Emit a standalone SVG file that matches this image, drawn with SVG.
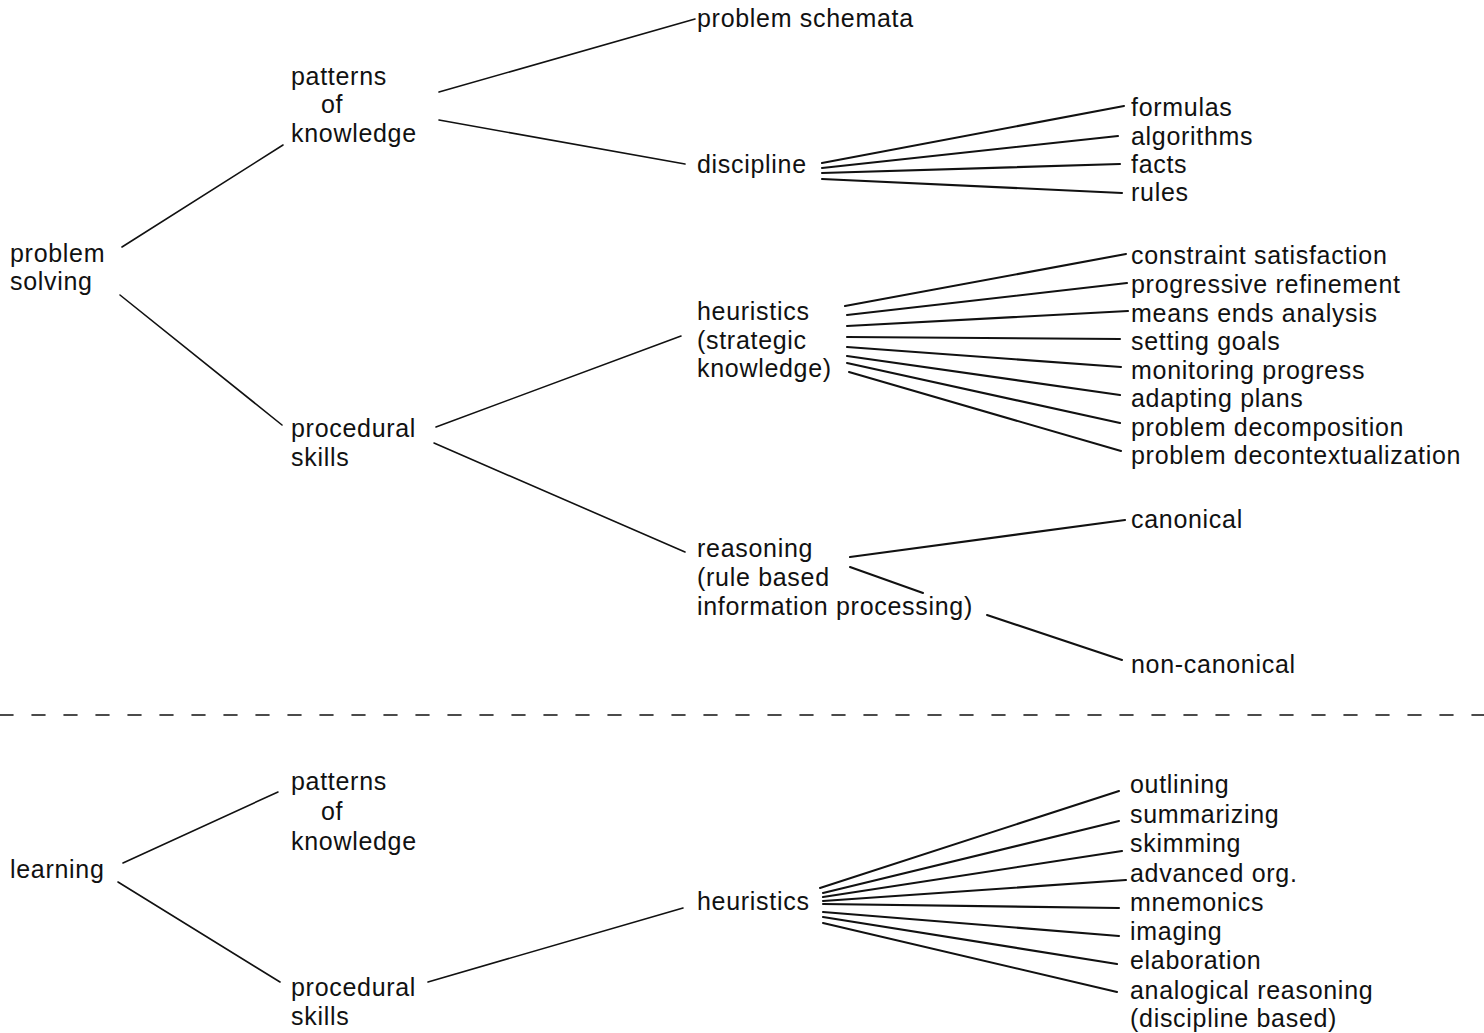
<svg xmlns="http://www.w3.org/2000/svg" width="1484" height="1033" viewBox="0 0 1484 1033">
<style>
text{font-family:"Liberation Sans",Arial,sans-serif;font-size:25px;letter-spacing:0.7px;fill:#111}
.c line{stroke:#111;stroke-width:1.6;stroke-linecap:round}
.c .f{stroke-width:2.1}
.dash{stroke:#111;stroke-width:2.2;stroke-dasharray:13 19}
</style>
<rect width="1484" height="1033" fill="#fff"/>
<g id="connectors" class="c">
<line x1="122" y1="247" x2="283" y2="145"/>
<line x1="439" y1="92" x2="695" y2="19"/>
<line x1="439" y1="120" x2="685" y2="164"/>
<line class="f" x1="822" y1="163" x2="1124" y2="106"/>
<line class="f" x1="822" y1="168" x2="1118" y2="136"/>
<line class="f" x1="822" y1="173" x2="1120" y2="164"/>
<line class="f" x1="822" y1="179" x2="1122" y2="193"/>
<line x1="120" y1="295" x2="282" y2="425"/>
<line x1="436" y1="427" x2="681" y2="336"/>
<line x1="434" y1="443" x2="685" y2="552"/>
<line class="f" x1="845" y1="306" x2="1126" y2="254"/>
<line class="f" x1="847" y1="315" x2="1127" y2="283"/>
<line class="f" x1="847" y1="326" x2="1128" y2="311"/>
<line class="f" x1="847" y1="337" x2="1120" y2="339"/>
<line class="f" x1="847" y1="347" x2="1121" y2="367"/>
<line class="f" x1="847" y1="356" x2="1120" y2="395"/>
<line class="f" x1="847" y1="363" x2="1120" y2="423"/>
<line class="f" x1="849" y1="372" x2="1121" y2="451"/>
<line class="f" x1="850" y1="557" x2="1125" y2="520"/>
<line class="f" x1="850" y1="567" x2="923" y2="593"/>
<line class="f" x1="987" y1="615" x2="1122" y2="660"/>
<line class="dash" x1="0" y1="715" x2="1484" y2="715"/>
<line x1="123" y1="863" x2="278" y2="792"/>
<line x1="118" y1="882" x2="280" y2="982"/>
<line x1="428" y1="982" x2="683" y2="908"/>
<line class="f" x1="820" y1="888" x2="1119" y2="791"/>
<line class="f" x1="823" y1="893" x2="1119" y2="821"/>
<line class="f" x1="823" y1="897" x2="1122" y2="851"/>
<line class="f" x1="823" y1="901" x2="1126" y2="880"/>
<line class="f" x1="823" y1="904" x2="1119" y2="908"/>
<line class="f" x1="823" y1="912" x2="1119" y2="936"/>
<line class="f" x1="823" y1="917" x2="1117" y2="964"/>
<line class="f" x1="823" y1="923" x2="1117" y2="992"/>
</g>
<g id="problem-solving"><text x="10" y="262">problem</text><text x="10" y="290">solving</text></g>
<g id="ps-patterns"><text x="291" y="85">patterns</text><text x="321" y="113">of</text><text x="291" y="142">knowledge</text></g>
<g id="problem-schemata"><text x="697" y="27">problem schemata</text></g>
<g id="discipline"><text x="697" y="173">discipline</text></g>
<g id="formulas"><text x="1131" y="116">formulas</text></g>
<g id="algorithms"><text x="1131" y="145">algorithms</text></g>
<g id="facts"><text x="1131" y="173">facts</text></g>
<g id="rules"><text x="1131" y="201">rules</text></g>
<g id="ps-procedural"><text x="291" y="437">procedural</text><text x="291" y="466">skills</text></g>
<g id="ps-heuristics"><text x="697" y="320">heuristics</text><text x="697" y="349">(strategic</text><text x="697" y="377">knowledge)</text></g>
<g id="constraint"><text x="1131" y="264">constraint satisfaction</text></g>
<g id="progressive"><text x="1131" y="293">progressive refinement</text></g>
<g id="means-ends"><text x="1131" y="322">means ends analysis</text></g>
<g id="setting-goals"><text x="1131" y="350">setting goals</text></g>
<g id="monitoring"><text x="1131" y="379">monitoring progress</text></g>
<g id="adapting"><text x="1131" y="407">adapting plans</text></g>
<g id="decomposition"><text x="1131" y="436">problem decomposition</text></g>
<g id="decontextualization"><text x="1131" y="464">problem decontextualization</text></g>
<g id="reasoning"><text x="697" y="557">reasoning</text><text x="697" y="586">(rule based</text><text x="697" y="615">information processing)</text></g>
<g id="canonical"><text x="1131" y="528">canonical</text></g>
<g id="non-canonical"><text x="1131" y="673">non-canonical</text></g>
<g id="learning"><text x="10" y="878">learning</text></g>
<g id="l-patterns"><text x="291" y="790">patterns</text><text x="321" y="820">of</text><text x="291" y="850">knowledge</text></g>
<g id="l-procedural"><text x="291" y="996">procedural</text><text x="291" y="1025">skills</text></g>
<g id="l-heuristics"><text x="697" y="910">heuristics</text></g>
<g id="outlining"><text x="1130" y="793">outlining</text></g>
<g id="summarizing"><text x="1130" y="823">summarizing</text></g>
<g id="skimming"><text x="1130" y="852">skimming</text></g>
<g id="advanced-org"><text x="1130" y="882">advanced org.</text></g>
<g id="mnemonics"><text x="1130" y="911">mnemonics</text></g>
<g id="imaging"><text x="1130" y="940">imaging</text></g>
<g id="elaboration"><text x="1130" y="969">elaboration</text></g>
<g id="analogical"><text x="1130" y="999">analogical reasoning</text><text x="1130" y="1027">(discipline based)</text></g>
</svg>
